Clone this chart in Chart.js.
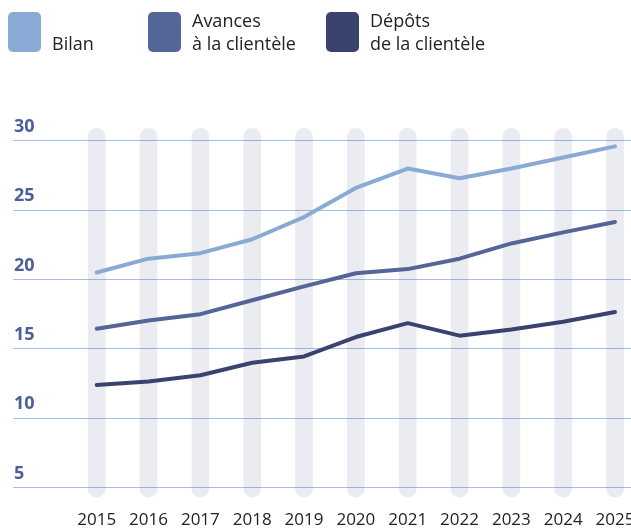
<!DOCTYPE html>
<html>
<head>
<meta charset="utf-8">
<script src="https://cdn.jsdelivr.net/npm/chart.js@4/dist/chart.umd.min.js"></script>
<style>
  html, body { margin: 0; padding: 0; background: #fff; }
  #wrap { width: 631px; height: 530px; position: relative; }
</style>
</head>
<body>
<div id="wrap"><canvas id="chart" width="631" height="530"></canvas></div>
<script>
const years = [2015, 2016, 2017, 2018, 2019, 2020, 2021, 2022, 2023, 2024, 2025];
const yTicks = [5, 10, 15, 20, 25, 30];

const seriesNames = [['', 'Bilan'], ['Avances', 'à la clientèle'], ['Dépôts', 'de la clientèle']];
const seriesColors = ['#8aaad6', '#546598', '#39436e'];

const bilan = [20.5, 21.5, 21.9, 22.9, 24.5, 26.6, 28.0, 27.3, 28.0, 28.8, 29.6];
const avances = [16.45, 17.05, 17.5, 18.5, 19.5, 20.45, 20.75, 21.5, 22.6, 23.4, 24.15];
const depots = [12.4, 12.65, 13.1, 14.0, 14.45, 15.85, 16.85, 15.95, 16.4, 16.95, 17.65];

// gray background columns, from low to high value
const bandRange = [4.3, 30.9];

const seriesValues = [bilan, avances, depots];

const font = '"Open Sans", "Noto Sans", sans-serif';

const legendPlugin = {
  id: 'boxLegend',
  afterDraw(chart) {
    const ctx = chart.ctx;
    const xs = [8, 148, 326];
    ctx.save();
    seriesNames.forEach((lines, i) => {
      const x = xs[i];
      ctx.fillStyle = seriesColors[i];
      ctx.beginPath();
      ctx.roundRect(x, 12, 33, 40, 5);
      ctx.fill();
      ctx.fillStyle = '#222';
      ctx.font = '18px ' + font;
      ctx.textBaseline = 'middle';
      ctx.textAlign = 'left';
      ctx.fillText(lines[0], x + 44, 22);
      ctx.fillText(lines[1], x + 44, 45);
    });
    ctx.restore();
  }
};

const lineSets = seriesValues.map((vals, i) => ({
  type: 'line',
  label: seriesNames[i].join(' ').trim(),
  data: years.map((y, j) => ({ x: y, y: vals[j] })),
  borderColor: seriesColors[i],
  borderWidth: 4,
  borderCapStyle: 'round',
  borderJoinStyle: 'round',
  pointRadius: 0,
  tension: 0,
  order: i
}));

new Chart(document.getElementById('chart'), {
  type: 'line',
  data: {
    datasets: [
      ...lineSets,
      {
        type: 'bar',
        label: 'band',
        data: years.map(y => ({ x: y, y: bandRange })),
        backgroundColor: 'rgba(60, 70, 130, 0.1)',
        barThickness: 17,
        borderRadius: 9,
        borderSkipped: false,
        order: 99
      }
    ]
  },
  options: {
    responsive: false,
    animation: false,
    layout: { padding: { top: 120, left: 11, right: 0, bottom: 0 } },
    plugins: { legend: { display: false }, tooltip: { enabled: false } },
    scales: {
      x: {
        type: 'linear',
        offset: false,
        min: 2013.385,
        max: 2025.308,
        grid: { display: false, drawTicks: false },
        border: { display: false },
        afterBuildTicks: s => { s.ticks = years.map(v => ({ value: v })); },
        afterFit: s => { s.height = 30; s.paddingLeft = 0; s.paddingRight = 0; },
        ticks: {
          autoSkip: false,
          maxRotation: 0,
          padding: 10,
          color: '#222',
          font: { family: font, size: 17 },
          callback: v => String(v)
        }
      },
      y: {
        min: 4.1,
        max: 31.5,
        grid: { color: '#a9bde0', lineWidth: 1, drawTicks: false },
        border: { display: false },
        afterBuildTicks: s => { s.ticks = yTicks.map(v => ({ value: v })); },
        ticks: {
          mirror: true,
          padding: 1,
          labelOffset: -14,
          color: '#4d5f99',
          font: { family: font, size: 18, weight: 'bold' }
        }
      }
    }
  },
  plugins: [legendPlugin]
});
</script>
</body>
</html>
